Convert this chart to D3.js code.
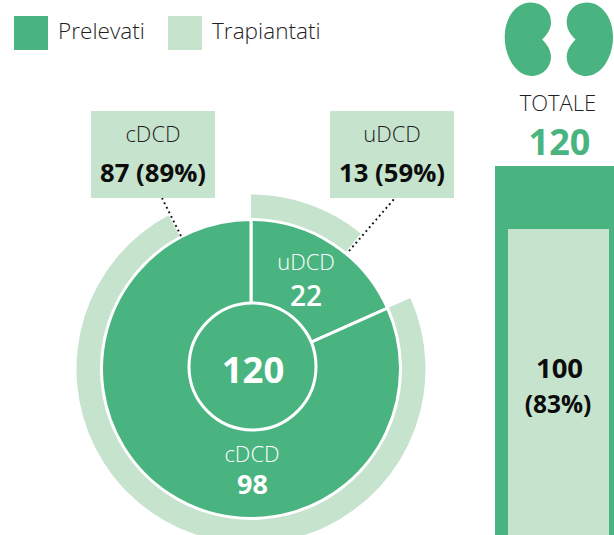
<!DOCTYPE html>
<html><head><meta charset="utf-8">
<script src="https://cdn.jsdelivr.net/npm/d3@7"></script>
<style>html,body{margin:0;padding:0;background:#fff;overflow:hidden}svg{display:block}text{font-family:"Open Sans",sans-serif}</style>
</head><body><script>
const categories = ["uDCD", "cDCD"];
const prelevati = [22, 98];
const trapiantati = [13, 87];
const ringValues = [13, 88.6];
const percent = ["59%", "89%"];
const totalPrelevati = 120;
const totalTrapiantati = 100;
const totalPercent = "83%";
const legendLabels = ["Prelevati", "Trapiantati"];
const GREEN = "#4ab480", LIGHT = "#c6e3ce", INK = "#1f1f1f";

const svg = d3.select("body").append("svg").attr("width", 614).attr("height", 535);

// legend
[[14, GREEN, 58], [168, LIGHT, 212]].forEach((l, i) => {
  svg.append("rect").attr("x", l[0]).attr("y", 16).attr("width", 34).attr("height", 34).attr("fill", l[1]);
  svg.append("text").attr("x", l[2]).attr("y", 39).attr("font-size", 22.6).attr("font-weight", 300).attr("fill", INK).text(legendLabels[i]);
});

// sunburst
const cx = 251, cy = 369;
const angle = d3.scaleLinear().domain([0, totalPrelevati]).range([0, 2 * Math.PI]);
const starts = d3.cumsum([0, ...prelevati]);
const g = svg.append("g").attr("transform", `translate(${cx},${cy})`);
const arcIn = d3.arc().innerRadius(0).outerRadius(149.5);
const arcOut = d3.arc().innerRadius(151).outerRadius(174.5);

categories.forEach((c, i) => {
  g.append("path").attr("fill", GREEN).attr("stroke", "#fff").attr("stroke-width", 3)
    .attr("d", arcIn({startAngle: angle(starts[i]), endAngle: angle(starts[i + 1])}));
  g.append("path").attr("fill", LIGHT)
    .attr("d", arcOut({startAngle: angle(starts[i]), endAngle: angle(starts[i] + ringValues[i])}));
});
svg.append("circle").attr("cx", 252.5).attr("cy", 366.5).attr("r", 63.5).attr("fill", GREEN).attr("stroke", "#fff").attr("stroke-width", 3);

// leader lines
[[349, 251, 395, 198], [181, 236, 162, 198]].forEach(d => {
  svg.append("line").attr("x1", d[0]).attr("y1", d[1]).attr("x2", d[2]).attr("y2", d[3])
    .attr("stroke", "#111").attr("stroke-width", 1.9).attr("stroke-dasharray", "1.9 3.2");
});

// callouts
[[330, 0], [91, 1]].forEach(([x, i]) => {
  svg.append("rect").attr("x", x).attr("y", 111).attr("width", 124).attr("height", 87).attr("fill", LIGHT);
  svg.append("text").attr("x", x + 62).attr("y", 142).attr("text-anchor", "middle").attr("font-size", 22).attr("font-weight", 300).attr("fill", INK).text(categories[i]);
  svg.append("text").attr("x", x + 62).attr("y", 182).attr("text-anchor", "middle").attr("font-size", 25.7).attr("font-weight", 700).attr("fill", "#0c0c0c").text(`${trapiantati[i]} (${percent[i]})`);
});

// labels inside
function t(x, y, s, fs, w, fill) {
  svg.append("text").attr("x", x).attr("y", y).attr("text-anchor", "middle").attr("font-size", fs).attr("font-weight", w).attr("fill", fill).text(s);
}
t(306, 270, categories[0], 22, 300, "#fff");
t(306, 306, prelevati[0], 28, 600, "#fff");
t(252, 462, categories[1], 22, 300, "#fff");
t(252.5, 493.5, prelevati[1], 27, 700, "#fff");
t(253, 383, totalPrelevati, 36.5, 700, "#fff");

// total column
const y = d3.scaleLinear().domain([0, totalPrelevati]).range([544, 166]);
svg.append("rect").attr("x", 495).attr("y", y(totalPrelevati)).attr("width", 119).attr("height", y(0) - y(totalPrelevati)).attr("fill", GREEN);
svg.append("rect").attr("x", 508).attr("y", y(totalTrapiantati)).attr("width", 101).attr("height", y(0) - y(totalTrapiantati)).attr("fill", LIGHT);
t(558, 111, "TOTALE", 22, 300, INK);
t(559.5, 155, totalPrelevati, 36, 700, GREEN);
t(559.5, 378, totalTrapiantati, 27.5, 700, "#0c0c0c");
t(558, 413, `(${totalPercent})`, 24.5, 700, "#0c0c0c");

// kidneys
const kidney = "M26,2.5C11,2.5 0,18 0,37C0,58 12,76 27,76C38,76 46.3,67 46.3,57C46.3,50 42,44 37.5,39.5C42,35 46.3,30 46.3,22C46.3,11 38,2.5 26,2.5Z";
svg.append("path").attr("transform", "translate(504.7,0)").attr("d", kidney).attr("fill", GREEN);
svg.append("path").attr("transform", "translate(613,0) scale(-1,1)").attr("d", kidney).attr("fill", GREEN);
</script></body></html>
